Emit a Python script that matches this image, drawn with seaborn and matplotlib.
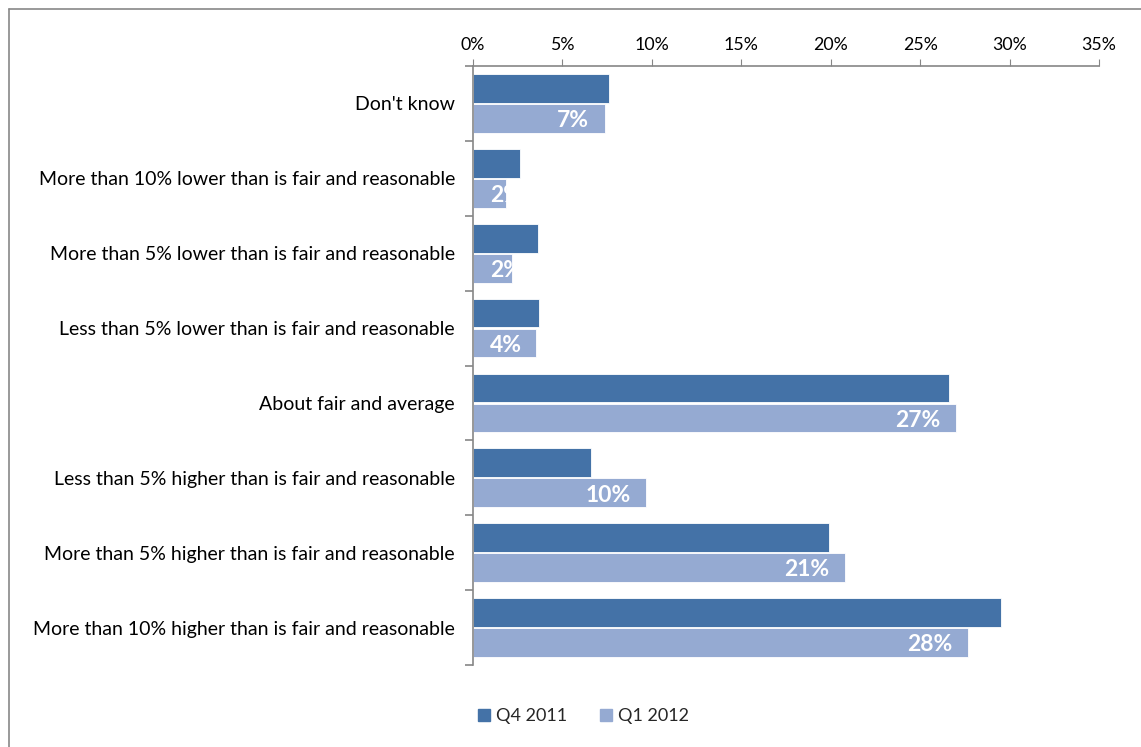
import numpy as np
import pandas as pd
import matplotlib
matplotlib.use("Agg")
import matplotlib.pyplot as plt
import seaborn as sns
from matplotlib.lines import Line2D
from matplotlib.ticker import FixedLocator, FuncFormatter

categories = [
    "Don't know",
    "More than 10% lower than is fair and reasonable",
    "More than 5% lower than is fair and reasonable",
    "Less than 5% lower than is fair and reasonable",
    "About fair and average",
    "Less than 5% higher than is fair and reasonable",
    "More than 5% higher than is fair and reasonable",
    "More than 10% higher than is fair and reasonable",
]
series_names = ["Q4 2011", "Q1 2012"]
q4_2011 = [7.6, 2.65, 3.65, 3.7, 26.6, 6.6, 19.9, 29.5]
q1_2012 = [7.4, 1.85, 2.2, 3.55, 27.0, 9.7, 20.8, 27.7]
xticks = [0, 5, 10, 15, 20, 25, 30, 35]

colors = ["#4472A7", "#95AAD2"]

df = pd.DataFrame({
    "category": categories * 2,
    "value": q4_2011 + q1_2012,
    "series": [series_names[0]] * len(categories) + [series_names[1]] * len(categories),
})

sns.set_style("white")
plt.rcParams["font.family"] = ["Lato", "DejaVu Sans"]

W, H = 1141, 747
fig = plt.figure(figsize=(W / 100, H / 100), dpi=100)
ax = fig.add_axes([473 / W, 1 - 665 / H, (1099 - 473) / W, (665 - 66) / H])

sns.barplot(data=df, y="category", x="value", hue="series", orient="h",
            palette=colors, width=0.8, gap=0.04, ax=ax, legend=False,
            edgecolor="white", linewidth=0.6, saturation=1)

ax.set_xlim(0, 35)
ax.set_ylim(len(categories) - 0.5, -0.5)
ax.xaxis.tick_top()
ax.xaxis.set_major_locator(FixedLocator(xticks))
ax.xaxis.set_major_formatter(FuncFormatter(lambda v, p: f"{int(v)}%"))
ax.set_xlabel("")
ax.set_ylabel("")

spine_col = "#868686"
for s in ["right", "bottom"]:
    ax.spines[s].set_visible(False)
for s in ["top", "left"]:
    ax.spines[s].set_color(spine_col)
    ax.spines[s].set_linewidth(1.2)

ax.tick_params(axis="x", which="major", top=True, direction="out", length=5,
               color=spine_col, labelsize=12.8, pad=4, labelcolor="black")
ax.tick_params(axis="y", which="major", length=0, labelsize=14, pad=13, labelcolor="black")
ax.yaxis.set_minor_locator(FixedLocator(np.arange(-0.5, len(categories) + 0.5, 1.0)))
ax.tick_params(axis="y", which="minor", left=True, length=6, color=spine_col, width=1.2)
ax.grid(False)

# data labels on Q1 2012 bars
q1_bars = ax.containers[1]
fig.canvas.draw()
renderer = fig.canvas.get_renderer()
px_per_unit = (1099 - 473) / 35.0
for bar, v in zip(q1_bars, q1_2012):
    yc = bar.get_y() + bar.get_height() / 2
    t = ax.text(v - 16 / px_per_unit, yc + 0.03, f"{round(v)}%", ha="right", va="center",
                color="white", fontsize=16.5, fontweight="bold", clip_on=False)
    bb = t.get_window_extent(renderer)
    x0_px = ax.transData.transform((0, 0))[0]
    if bb.x0 < x0_px + 17:
        t.set_ha("left")
        t.set_x(17 / px_per_unit)

# legend
handles = [Line2D([0], [0], marker="s", linestyle="", markersize=9,
                  markerfacecolor=c, markeredgecolor=c) for c in colors]
fig.legend(handles, series_names, loc="center", bbox_to_anchor=(582 / W, 1 - 716 / H),
           ncol=2, frameon=False, fontsize=13, handletextpad=0.2, columnspacing=1.6,
           handlelength=1.0)

# outer frame (partially visible)
fig.add_artist(Line2D([8.5 / W, 8.5 / W], [0, 1 - 9 / H], transform=fig.transFigure,
                      color="#888888", linewidth=1.2))
fig.add_artist(Line2D([8.5 / W, 1], [1 - 9 / H, 1 - 9 / H], transform=fig.transFigure,
                      color="#888888", linewidth=1.2))

fig.savefig("out.png", dpi=100, facecolor="white")
